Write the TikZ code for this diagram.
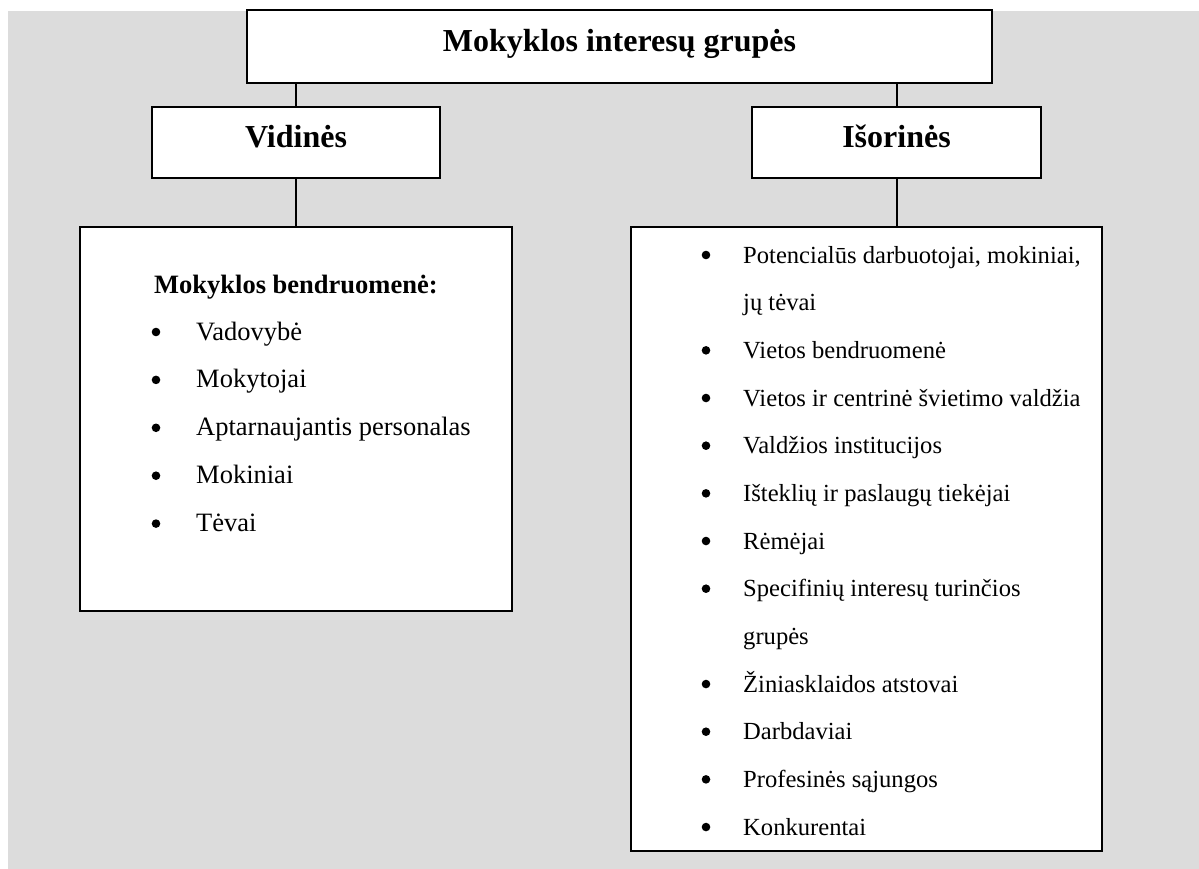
\documentclass[tikz,border=0pt]{standalone}
\usepackage{fontspec}
\setmainfont{Liberation Serif}
\definecolor{panel}{HTML}{DCDCDC}
\begin{document}
\begin{tikzpicture}[x=1pt,y=-1pt,
  box/.style={draw=black,line width=2.6pt,fill=white,inner sep=0pt,
    font=\fontsize{32}{36}\selectfont\bfseries,text height=22pt,text depth=11pt},
  link/.style={draw=black,line width=2pt},
  item/.style={anchor=base west,inner sep=0pt,font=\fontsize{26.5}{30}\selectfont},
  ritem/.style={item,font=\fontsize{24.6}{28}\selectfont},
  bul/.style={circle,fill=black,inner sep=0pt,minimum size=8.6pt}]
\useasboundingbox (0,0) rectangle (1199,869);
\fill[panel] (8,11) rectangle (1199,869);

% boxes
\node[box,minimum width=745pt,minimum height=73pt] (title) at (619.5,46.5) {Mokyklos interesų grupės};
\node[box,minimum width=288pt,minimum height=71pt] (vid) at (296,142.5) {Vidinės};
\node[box,minimum width=289pt,minimum height=71pt] (isor) at (896.5,142.5) {Išorinės};
\node[box,minimum width=432pt,minimum height=384pt] (left) at (296,419) {};
\node[box,minimum width=471pt,minimum height=624pt] (right) at (866.5,539) {};

% connectors
\draw[link] (title.south -| vid.north) -- (vid.north);
\draw[link] (title.south -| isor.north) -- (isor.north);
\draw[link] (vid.south) -- (vid.south |- left.north);
\draw[link] (isor.south) -- (isor.south |- right.north);

% internal groups
\node[item,font=\fontsize{26.5}{30}\selectfont\bfseries] (lhead) at (154,293) {Mokyklos bendruomenė:};
\foreach \t [count=\i] in {Vadovybė,Mokytojai,Aptarnaujantis personalas,Mokiniai,Tėvai}{
  \node[bul] (lb\i) at (156,{340+47.9*(\i-1)-8}) {};
  \node[item] (lt\i) at (196,{340+47.9*(\i-1)}) {\t};
}

% external groups
\foreach \t/\k/\b [count=\i] in {
  {Potencialūs darbuotojai, mokiniai,}/0/1,
  {jų tėvai}/1/0,
  {Vietos bendruomenė}/2/1,
  {Vietos ir centrinė švietimo valdžia}/3/1,
  {Valdžios institucijos}/4/1,
  {Išteklių ir paslaugų tiekėjai}/5/1,
  {Rėmėjai}/6/1,
  {Specifinių interesų turinčios}/7/1,
  {grupės}/8/0,
  {Žiniasklaidos atstovai}/9/1,
  {Darbdaviai}/10/1,
  {Profesinės sąjungos}/11/1,
  {Konkurentai}/12/1}{
  \ifnum\b=1
    \node[bul] (rb\i) at (706,{263+47.67*\k-8}) {};
  \fi
  \node[ritem] (rt\i) at (743,{263+47.67*\k}) {\t};
}
\end{tikzpicture}
\end{document}
